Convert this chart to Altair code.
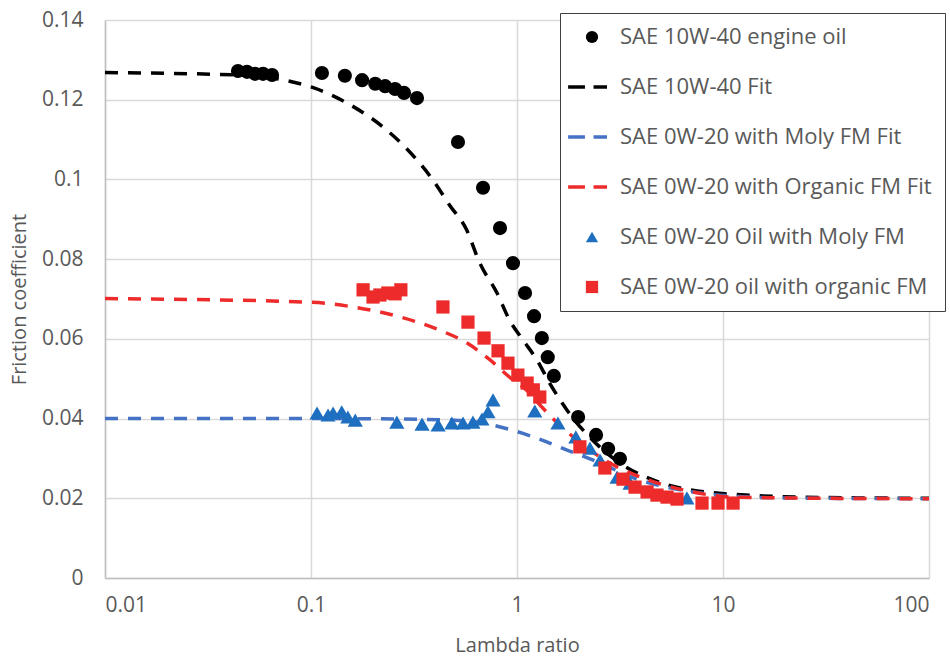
import altair as alt
import pandas as pd

SERIES = [
    "SAE 10W-40 engine oil",
    "SAE 10W-40 Fit",
    "SAE 0W-20 with Moly FM Fit",
    "SAE 0W-20 with Organic FM Fit",
    "SAE 0W-20 Oil with Moly FM",
    "SAE 0W-20 oil with organic FM",
]

# measured points
engine_x = [0.0442, 0.0489, 0.0535, 0.0585, 0.0647, 0.113, 0.146, 0.177, 0.205, 0.229,
            0.256, 0.283, 0.327, 0.517, 0.684, 0.827, 0.956, 1.094, 1.21, 1.32, 1.41,
            1.51, 1.98, 2.42, 2.77, 3.16]
engine_y = [0.1272, 0.1270, 0.1265, 0.1265, 0.1262, 0.1267, 0.1260, 0.1249, 0.1240, 0.1234,
            0.1227, 0.1217, 0.1204, 0.1094, 0.0979, 0.0878, 0.0790, 0.0715, 0.0657, 0.0602,
            0.0554, 0.0507, 0.0404, 0.0359, 0.0324, 0.0299]

moly_x = [0.107, 0.121, 0.128, 0.141, 0.151, 0.164, 0.261, 0.346, 0.414, 0.483, 0.547,
          0.611, 0.676, 0.723, 0.765, 1.22, 1.58, 1.93, 2.26, 2.53, 3.06, 3.54, 6.68]
moly_y = [0.0414, 0.0409, 0.0414, 0.0417, 0.0404, 0.0396, 0.0391, 0.0386, 0.0384, 0.0389,
          0.0389, 0.0391, 0.0399, 0.0417, 0.0447, 0.0419, 0.0389, 0.0354, 0.0326, 0.0296,
          0.0253, 0.0238, 0.0201]

organic_x = [0.179, 0.200, 0.216, 0.236, 0.256, 0.273, 0.437, 0.578, 0.692, 0.809, 0.904,
             1.01, 1.12, 1.20, 1.29, 2.02, 2.67, 3.27, 3.74, 4.28, 4.78, 5.35, 5.98,
             7.91, 9.46, 11.19]
organic_y = [0.0723, 0.0705, 0.0710, 0.0715, 0.0713, 0.0723, 0.0680, 0.0642, 0.0602, 0.0570,
             0.0539, 0.0509, 0.0489, 0.0472, 0.0454, 0.0329, 0.0276, 0.0248, 0.0228, 0.0216,
             0.0208, 0.0203, 0.0198, 0.0188, 0.0188, 0.0188]

# fit curves
fit_engine_x = [0.01, 0.044, 0.1, 0.149, 0.223, 0.28, 0.39, 0.47, 0.57, 0.66, 0.80, 0.92,
                1.07, 1.25, 1.44, 1.75, 2.52, 3.39, 4.24, 9.3, 30, 100]
fit_engine_y = [0.1268, 0.1262, 0.1232, 0.1192, 0.1132, 0.1086, 0.0999, 0.0936, 0.0873,
                0.0790, 0.0715, 0.0647, 0.0597, 0.0547, 0.0489, 0.0421, 0.0329, 0.0278,
                0.0253, 0.0213, 0.0202, 0.0200]

fit_moly_x = [0.01, 0.1, 0.27, 0.57, 0.83, 1.2, 1.75, 2.52, 3.6, 5.3, 7.8, 13.5, 30, 100]
fit_moly_y = [0.0400, 0.0400, 0.0399, 0.0394, 0.0379, 0.0354, 0.0321, 0.0289, 0.0253,
              0.0228, 0.0213, 0.0203, 0.0200, 0.0199]

fit_organic_x = [0.01, 0.1, 0.16, 0.27, 0.42, 0.57, 0.74, 0.92, 1.11, 1.33, 1.56, 2.52,
                 3.98, 6.4, 11.2, 30, 100]
fit_organic_y = [0.0701, 0.0692, 0.0680, 0.0655, 0.0622, 0.0590, 0.0547, 0.0504, 0.0472,
                 0.0427, 0.0391, 0.0304, 0.0253, 0.0221, 0.0203, 0.0200, 0.0199]

DASH = "M-3.9,-0.28H-1.15V0.28H-3.9Z M0.25,-0.28H2.45V0.28H0.25Z"
SHAPES = ["circle", DASH, DASH, DASH, "triangle-up", "square"]
FILLS = ["#000000", "#000000", "#4472C4", "#EE2B2B", "#1F6FC0", "#EE2B2B"]

FONT = "Open Sans"
TXT = "#595959"

xenc = alt.X("x:Q", scale=alt.Scale(type="log", domain=[0.01, 100]),
             axis=alt.Axis(title="Lambda ratio", values=[0.01, 0.1, 1, 10, 100], format="~g",
                           labelFontSize=21, labelColor=TXT, labelFont=FONT, labelPadding=16,
                           titleFont=FONT, titleFontSize=20, titleColor=TXT,
                           titleFontWeight="normal", titlePadding=20,
                           ticks=False, gridColor="#D9D9D9", gridWidth=1.5,
                           domainColor="#BFBFBF", domainWidth=1.5))
yenc = alt.Y("y:Q", scale=alt.Scale(domain=[0, 0.14], nice=False),
             axis=alt.Axis(title="Friction coefficient",
                           values=[0, 0.02, 0.04, 0.06, 0.08, 0.1, 0.12, 0.14], format="~g",
                           labelFontSize=21, labelColor=TXT, labelFont=FONT, labelPadding=22,
                           titleFont=FONT, titleFontSize=20, titleColor=TXT,
                           titleFontWeight="normal", titlePadding=12,
                           ticks=False, gridColor="#D9D9D9", gridWidth=1.5,
                           domainColor="#BFBFBF", domainWidth=1.5))

leg = alt.Legend(title=None, orient="none", legendX=455, legendY=-7,
                 fillColor="white", strokeColor="#404040",
                 padding=13, rowPadding=28, symbolSize=150, symbolOffset=8,
                 labelFont=FONT, labelFontSize=22, labelColor=TXT, labelOffset=17,
                 labelLimit=500, symbolStrokeWidth=0, symbolOpacity=1)

fill_enc = alt.Fill("series:N", scale=alt.Scale(domain=SERIES, range=FILLS), legend=leg)
shape_enc = alt.Shape("series:N", scale=alt.Scale(domain=SERIES, range=SHAPES), legend=leg)

def point_layer(xs, ys, name, size):
    df = pd.DataFrame({"x": xs, "y": ys, "series": name})
    return alt.Chart(df).mark_point(filled=True, opacity=1, strokeWidth=0, size=size).encode(
        x=xenc, y=yenc, fill=fill_enc, shape=shape_enc
    )

def fit_layer(xs, ys, color):
    df = pd.DataFrame({"x": xs, "y": ys})
    return alt.Chart(df).mark_line(
        strokeDash=[13, 10], strokeWidth=3.5, color=color, interpolate="monotone"
    ).encode(x=xenc, y=yenc)

chart = alt.layer(
    point_layer(engine_x, engine_y, SERIES[0], 200),
    fit_layer(fit_engine_x, fit_engine_y, "#000000"),
    fit_layer(fit_moly_x, fit_moly_y, "#4472C4"),
    fit_layer(fit_organic_x, fit_organic_y, "#EE2B2B"),
    point_layer(moly_x, moly_y, SERIES[4], 230),
    point_layer(organic_x, organic_y, SERIES[5], 175),
).properties(
    width=824, height=558,
    autosize=alt.AutoSizeParams(type="none"),
    padding={"left": 105, "top": 20, "right": 21, "bottom": 79},
    background="white",
).configure_view(stroke=None)

chart.save("out.html", embed_options={"renderer": "svg", "actions": False})
